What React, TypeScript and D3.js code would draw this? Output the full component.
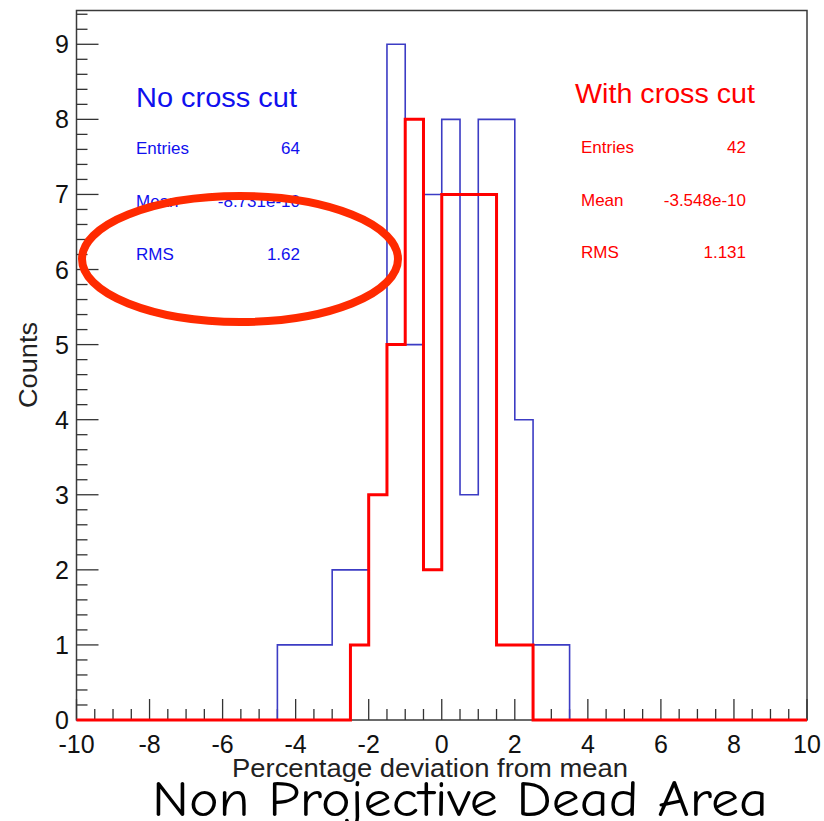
import React from "react";
import * as d3 from "d3";

// Histogram bins (centres, width 0.5) and counts
const binWidth = 0.5;
const noCutCentres = [-4.25, -3.75, -3.25, -2.75, -2.25, -1.75, -1.25, -0.75, -0.25, 0.25, 0.75, 1.25, 1.75, 2.25, 2.75, 3.25];
const noCutCounts = [1, 1, 1, 2, 2, 3, 9, 5, 7, 8, 3, 8, 8, 4, 1, 1];
const withCutCentres = [-2.25, -1.75, -1.25, -0.75, -0.25, 0.25, 0.75, 1.25, 1.75, 2.25];
const withCutCounts = [1, 3, 5, 8, 2, 7, 7, 7, 1, 1];

// Stats boxes
const noCutStats = [
  ["Entries", "64"],
  ["Mean", "-8.731e-10"],
  ["RMS", "1.62"],
];
const withCutStats = [
  ["Entries", "42"],
  ["Mean", "-3.548e-10"],
  ["RMS", "1.131"],
];

const xMajorTicks = [-10, -8, -6, -4, -2, 0, 2, 4, 6, 8, 10];
const yMajorTicks = [0, 1, 2, 3, 4, 5, 6, 7, 8, 9];
const xDomain: [number, number] = [-10, 10];
const yDomain: [number, number] = [0, 9.45];

const W = 824;
const H = 821;
const left = 76.5;
const right = 807;
const top = 10.5;
const bottom = 720;

const x = d3.scaleLinear().domain(xDomain).range([left, right]);
const y = d3.scaleLinear().domain(yDomain).range([bottom, top]);

function stepPath(centres: number[], counts: number[]): string {
  const pts: [number, number][] = [[xDomain[0], 0]];
  centres.forEach((c, i) => pts.push([c - binWidth / 2, counts[i]]));
  pts.push([centres[centres.length - 1] + binWidth / 2, 0]);
  pts.push([xDomain[1], 0]);
  const line = d3
    .line<[number, number]>()
    .x((d) => x(d[0]))
    .y((d) => y(d[1]))
    .curve(d3.curveStepAfter);
  return line(pts) || "";
}

const font = "'Liberation Sans', Arial, Helvetica, sans-serif";

export default function App() {
  const xMinor = d3.range(-10, 10.001, 0.5).filter((v) => !xMajorTicks.includes(Math.round(v * 10) / 10));
  const yMinor = d3.range(0, 9.45, 0.2).map((v) => Math.round(v * 10) / 10).filter((v) => !yMajorTicks.includes(v));

  return (
    <div style={{ position: "fixed", left: 0, top: 0 }}>
      <svg width={W} height={H} style={{ display: "block", background: "#fff" }}>
        {/* frame */}
        <rect x={left} y={top} width={right - left} height={bottom - top} fill="none" stroke="#3a3a3a" strokeWidth={1.5} />

        {/* x ticks */}
        {xMajorTicks.map((t) => (
          <line key={"xM" + t} x1={x(t)} x2={x(t)} y1={bottom} y2={bottom - 21} stroke="#333" strokeWidth={1.3} />
        ))}
        {xMinor.map((t) => (
          <line key={"xm" + t} x1={x(t)} x2={x(t)} y1={bottom} y2={bottom - 11} stroke="#333" strokeWidth={1.3} />
        ))}
        {xMajorTicks.map((t) => (
          <text key={"xl" + t} x={x(t)} y={753} textAnchor="middle" fontFamily={font} fontSize={25} fill="#111">
            {t}
          </text>
        ))}

        {/* y ticks */}
        {yMajorTicks.map((t) => (
          <line key={"yM" + t} x1={left} x2={left + 22} y1={y(t)} y2={y(t)} stroke="#333" strokeWidth={1.3} />
        ))}
        {yMinor.map((t) => (
          <line key={"ym" + t} x1={left} x2={left + 11} y1={y(t)} y2={y(t)} stroke="#333" strokeWidth={1.3} />
        ))}
        {yMajorTicks.map((t) => (
          <text key={"yl" + t} x={69} y={y(t) + 9} textAnchor="end" fontFamily={font} fontSize={25} fill="#111">
            {t}
          </text>
        ))}

        {/* axis titles */}
        <text
          x={430}
          y={777}
          textAnchor="middle"
          fontFamily={font}
          fontSize={25}
          fill="#222"
          textLength={396}
          lengthAdjust="spacingAndGlyphs"
        >
          Percentage deviation from mean
        </text>
        <text
          transform="translate(37,365) rotate(-90)"
          textAnchor="middle"
          fontFamily={font}
          fontSize={25}
          fill="#222"
          textLength={86}
          lengthAdjust="spacingAndGlyphs"
        >
          Counts
        </text>

        {/* histograms */}
        <path d={stepPath(noCutCentres, noCutCounts)} fill="none" stroke="#3c3cc4" strokeWidth={1.6} />
        <path d={stepPath(withCutCentres, withCutCounts)} fill="none" stroke="#ff0000" strokeWidth={3} />

        {/* stats: no cross cut */}
        <text x={136} y={107} fontFamily={font} fontSize={27} fill="#1010ee" textLength={161} lengthAdjust="spacingAndGlyphs">
          No cross cut
        </text>
        {noCutStats.map(([k, v], i) => (
          <g key={"ns" + k}>
            <text x={136} y={154 + i * 53} fontFamily={font} fontSize={17} fill="#1010ee">
              {k}
            </text>
            <text x={300} y={154 + i * 53} textAnchor="end" fontFamily={font} fontSize={17} fill="#1010ee">
              {v}
            </text>
          </g>
        ))}

        {/* stats: with cross cut */}
        <text x={575} y={103} fontFamily={font} fontSize={27} fill="#ff0000" textLength={180} lengthAdjust="spacingAndGlyphs">
          With cross cut
        </text>
        {withCutStats.map(([k, v], i) => (
          <g key={"ws" + k}>
            <text x={581} y={153 + i * 52.5} fontFamily={font} fontSize={17} fill="#ff0000">
              {k}
            </text>
            <text x={746} y={153 + i * 52.5} textAnchor="end" fontFamily={font} fontSize={17} fill="#ff0000">
              {v}
            </text>
          </g>
        ))}

        {/* highlight ring */}
        <ellipse cx={240} cy={259} rx={158} ry={63} fill="none" stroke="#ff2a00" strokeWidth={8} />

        {/* caption */}
        <text
          x={152}
          y={816}
          fontFamily="'Comic Sans MS', 'Comic Neue', 'DejaVu Sans', sans-serif"
          fontSize={50}
          fill="#000"
          textLength={616}
          lengthAdjust="spacingAndGlyphs"
        >
          Non Projective Dead Area
        </text>
      </svg>
    </div>
  );
}
